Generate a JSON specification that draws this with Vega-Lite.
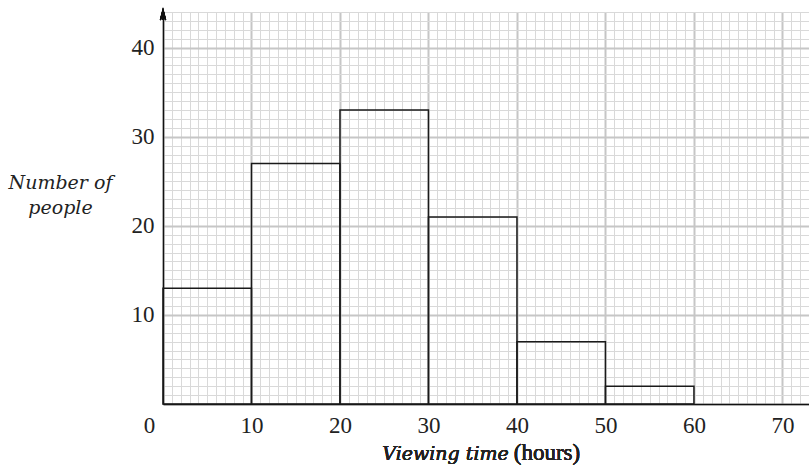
{
  "$schema": "https://vega.github.io/schema/vega-lite/v6.json",
  "width": 646,
  "height": 392,
  "autosize": {"type": "none"},
  "padding": {"left": 163, "top": 12, "right": 0, "bottom": 66},
  "background": "white",
  "config": {
    "view": {"stroke": null},
    "font": "Liberation Serif",
    "axis": {
      "ticks": false,
      "tickCount": 200,
      "format": "d",
      "domainColor": "#111",
      "domainWidth": 1.5,
      "labelFont": "Liberation Serif",
      "labelFontSize": 23,
      "labelColor": "#222",
      "labelOverlap": false,
      "labelFlush": false,
      "gridColor": {"condition": {"test": "datum.value % 10 === 0", "value": "#c6c6c6"}, "value": "#d9d9d9"},
      "gridWidth": {"condition": {"test": "datum.value % 10 === 0", "value": 2}, "value": 1},
      "gridOpacity": 1
    }
  },
  "data": {
    "values": [
      {"start": 0, "end": 10, "people": 13},
      {"start": 10, "end": 20, "people": 27},
      {"start": 20, "end": 30, "people": 33},
      {"start": 30, "end": 40, "people": 21},
      {"start": 40, "end": 50, "people": 7},
      {"start": 50, "end": 60, "people": 2}
    ]
  },
  "layer": [
    {
      "mark": {"type": "rect", "fill": null, "stroke": "#1a1a1a", "strokeWidth": 1.5},
      "encoding": {
        "x": {
          "field": "start", "type": "quantitative",
          "scale": {"domain": [0, 73], "nice": false, "zero": false},
          "axis": {
            "title": null,
            "grid": true,
            "tickCount": 200,
            "format": "d",
            "values": [0,1,2,3,4,5,6,7,8,9,10,11,12,13,14,15,16,17,18,19,20,21,22,23,24,25,26,27,28,29,30,31,32,33,34,35,36,37,38,39,40,41,42,43,44,45,46,47,48,49,50,51,52,53,54,55,56,57,58,59,60,61,62,63,64,65,66,67,68,69,70,71,72,73],
            "labelExpr": "datum.value % 10 === 0 ? datum.label : ''",
            "labelPadding": 10,
            "labelOffset": {"condition": {"test": "datum.value === 0", "value": -14}, "value": 0}
          }
        },
        "x2": {"field": "end"},
        "y": {
          "field": "people", "type": "quantitative",
          "scale": {"domain": [0, 44], "nice": false},
          "axis": {
            "title": ["Number of", "people"],
            "titleFont": "DejaVu Serif",
            "titleFontSize": 19,
            "titleFontStyle": "italic",
            "titleFontWeight": "normal",
            "titleColor": "#222",
            "titleAngle": 0,
            "titleAlign": "center",
            "titleBaseline": "alphabetic",
            "titleLineHeight": 25,
            "titleX": -103,
            "titleY": 176,
            "grid": true,
            "tickCount": 200,
            "format": "d",
            "values": [0,1,2,3,4,5,6,7,8,9,10,11,12,13,14,15,16,17,18,19,20,21,22,23,24,25,26,27,28,29,30,31,32,33,34,35,36,37,38,39,40,41,42,43,44],
            "labelExpr": "datum.value % 10 === 0 && datum.value > 0 ? datum.label : ''",
            "labelPadding": 9
          }
        },
        "y2": {"datum": 0}
      }
    },
    {
      "mark": {"type": "point", "shape": "M-0.65,2 L0,-0.5 L0.65,2 M0,-0.5 L0,2", "size": 64, "filled": false, "color": "#111", "strokeWidth": 1.2, "opacity": 1},
      "encoding": {
        "x": {"datum": 0, "type": "quantitative"},
        "y": {"datum": 44, "type": "quantitative"}
      }
    },
    {
      "mark": {"type": "text", "text": "Viewing time", "font": "DejaVu Serif", "fontSize": 19, "fontStyle": "italic", "fontWeight": "normal", "align": "right", "baseline": "alphabetic", "dx": -2, "color": "#222"},
      "encoding": {
        "x": {"datum": 39.3, "type": "quantitative"},
        "y": {"datum": -6.29, "type": "quantitative"}
      }
    },
    {
      "mark": {"type": "text", "text": "(hours)", "font": "Liberation Serif", "fontSize": 23, "fontWeight": "normal", "align": "left", "baseline": "alphabetic", "dx": 3, "color": "#222"},
      "encoding": {
        "x": {"datum": 39.3, "type": "quantitative"},
        "y": {"datum": -6.29, "type": "quantitative"}
      }
    }
  ]
}
